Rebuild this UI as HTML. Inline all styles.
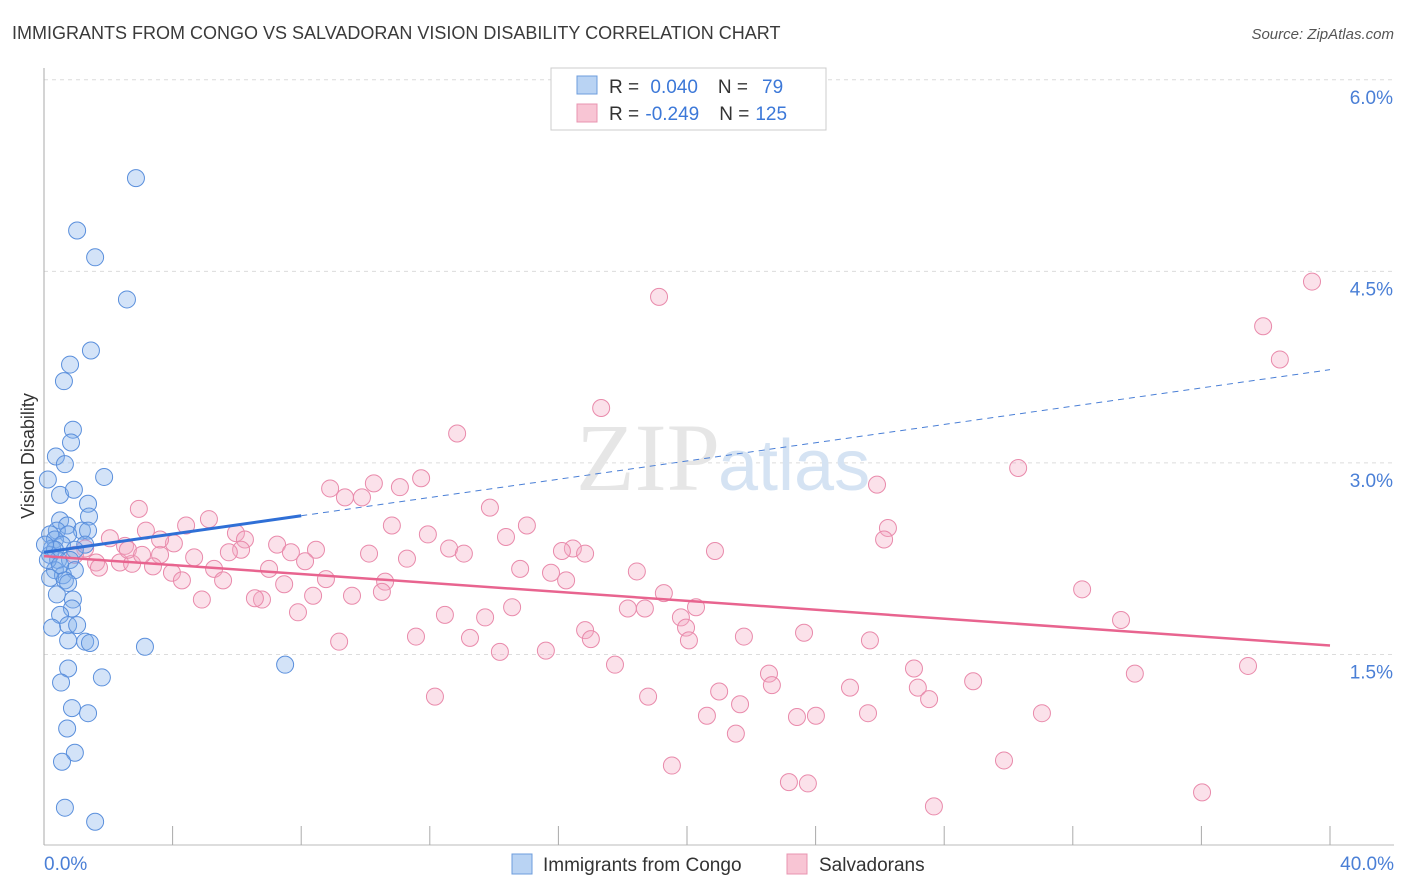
<!DOCTYPE html>
<html><head><meta charset="utf-8"><style>
body{margin:0;background:#fff;font-family:"Liberation Sans",sans-serif;}
#wrap{position:relative;width:1406px;height:892px;overflow:hidden;}
</style></head><body>
<div id="wrap">
<svg id="svg" width="1406" height="892" xmlns="http://www.w3.org/2000/svg">
<text x="12" y="39" font-size="18" fill="#3a3a3a" font-family="Liberation Sans,sans-serif">IMMIGRANTS FROM CONGO VS SALVADORAN VISION DISABILITY CORRELATION CHART</text>
<text x="1394" y="39" font-size="15" fill="#555" text-anchor="end" font-style="italic" font-family="Liberation Sans,sans-serif">Source: ZipAtlas.com</text>
<text x="34" y="456" font-size="18" fill="#333" text-anchor="middle" transform="rotate(-90 34 456)" font-family="Liberation Sans,sans-serif">Vision Disability</text>
<g id="grid"></g>
<text x="720" y="490" font-size="96" fill="#e6e6e6" text-anchor="end" font-family="Liberation Serif,serif">ZIP</text>
<text x="718" y="490" font-size="72" fill="#d5e3f3" font-family="Liberation Sans,sans-serif">atlas</text>
<g id="pts"></g>
<g id="lines"></g>
<g>
<rect x="551" y="68" width="275" height="62" fill="#fff" stroke="#ccc"/>
<rect x="577" y="76" width="20" height="18" fill="#b9d3f3" stroke="#6d9ddd"/>
<rect x="577" y="104" width="20" height="18" fill="#f8c5d4" stroke="#e894b0"/>
<text x="609" y="93" font-size="19" fill="#333">R = <tspan fill="#3c78d8" dx="6">0.040</tspan><tspan fill="#333" dx="20">N =</tspan><tspan fill="#3c78d8" dx="14">79</tspan></text>
<text x="609" y="120" font-size="19" fill="#333">R = <tspan fill="#3c78d8" dx="1">-0.249</tspan><tspan fill="#333" dx="20">N =</tspan><tspan fill="#3c78d8" dx="6">125</tspan></text>
</g>
<g>
<rect x="512" y="854" width="20" height="20" fill="#b9d3f3" stroke="#6d9ddd"/>
<text x="543" y="871" font-size="19" fill="#333">Immigrants from Congo</text>
<rect x="787" y="854" width="20" height="20" fill="#f8c5d4" stroke="#e894b0"/>
<text x="819" y="871" font-size="19" fill="#333">Salvadorans</text>
</g>
</svg>
</div>
<script>
const yTicks=[1.5,3.0,4.5,6.0];
const yTickLabels=["1.5%","3.0%","4.5%","6.0%"];
const xTicks=[0,4,8,12,16,20,24,28,32,36,40];
const xEndLabels=["0.0%","40.0%"];
const congoX=[2.86,1.03,1.59,2.58,1.46,0.81,0.62,0.90,0.84,0.37,0.65,0.12,1.87,0.50,0.93,1.37,1.40,0.50,0.72,0.40,1.18,0.75,1.37,0.19,0.34,0.25,0.56,1.28,0.96,0.19,0.44,0.81,0.34,0.59,0.96,0.19,0.65,0.75,0.40,0.90,0.87,0.50,0.25,0.75,1.03,0.75,1.28,1.43,3.14,0.75,7.50,0.53,1.80,0.87,1.37,0.72,0.96,0.56,0.65,1.59,0.34,0.12,0.50,0.03];
const congoY=[5.23,4.82,4.61,4.28,3.88,3.77,3.64,3.26,3.16,3.05,2.99,2.87,2.89,2.75,2.79,2.68,2.58,2.55,2.51,2.47,2.47,2.44,2.47,2.44,2.40,2.33,2.36,2.36,2.32,2.28,2.24,2.24,2.16,2.12,2.16,2.10,2.08,2.06,1.97,1.93,1.86,1.81,1.71,1.73,1.73,1.61,1.60,1.59,1.56,1.39,1.42,1.28,1.32,1.08,1.04,0.92,0.73,0.66,0.30,0.19,2.32,2.24,2.20,2.36];
const salvX=[39.44,19.13,37.92,38.44,17.33,12.85,30.30,25.91,8.90,10.26,11.73,11.07,9.36,9.89,2.95,5.13,13.87,26.25,4.42,15.02,10.82,3.17,5.97,11.94,2.05,26.13,6.25,4.04,14.37,2.52,7.25,8.46,12.60,16.45,16.11,20.87,6.13,5.75,16.83,10.11,7.68,13.06,3.61,4.67,8.12,11.29,1.62,2.36,2.74,1.71,7.00,5.29,3.98,3.39,14.81,15.77,18.44,5.57,8.77,10.61,16.24,4.29,7.47,32.29,19.28,9.58,10.51,6.78,6.56,8.37,4.91,14.56,18.16,20.28,18.69,7.90,12.47,13.72,33.50,19.81,16.83,19.97,23.64,21.77,11.57,13.25,9.18,17.01,20.06,25.69,14.18,15.61,17.76,27.06,37.45,22.55,33.93,22.64,28.90,25.07,21.00,27.18,12.16,18.79,27.53,21.65,20.62,23.42,24.01,25.63,31.04,21.52,29.86,19.53,23.17,23.76,36.02,27.68,2.61,3.05,3.61,1.28,0.96];
const salvY=[4.42,4.30,4.07,3.81,3.43,3.23,2.96,2.83,2.80,2.84,2.88,2.81,2.73,2.73,2.64,2.56,2.65,2.49,2.51,2.51,2.51,2.47,2.45,2.44,2.41,2.40,2.40,2.37,2.42,2.35,2.36,2.32,2.33,2.33,2.31,2.31,2.32,2.30,2.29,2.29,2.30,2.29,2.28,2.26,2.23,2.25,2.22,2.22,2.21,2.18,2.17,2.17,2.14,2.19,2.17,2.14,2.15,2.08,2.09,2.07,2.08,2.08,2.05,2.01,1.98,1.96,1.99,1.93,1.94,1.96,1.93,1.87,1.86,1.87,1.86,1.83,1.81,1.79,1.77,1.79,1.69,1.71,1.67,1.64,1.64,1.63,1.60,1.62,1.61,1.61,1.52,1.53,1.42,1.39,1.41,1.35,1.35,1.26,1.29,1.24,1.21,1.24,1.17,1.17,1.15,1.11,1.02,1.01,1.02,1.04,1.04,0.88,0.67,0.63,0.50,0.49,0.42,0.31,2.32,2.28,2.40,2.33,2.28];
const congoTrend=[2.30,3.73]; // y at x=0 and x=40
const congoSolidEnd=8;
const salvTrend=[2.27,1.57];

const NS="http://www.w3.org/2000/svg";
const X0=44,X1=1330,Y0=846,PXPERY=127.7;
function sx(v){return X0+(X1-X0)*v/40;}
function sy(v){return Y0-v*PXPERY;}
function mk(tag,attrs,parent){const e=document.createElementNS(NS,tag);for(const k in attrs)e.setAttribute(k,attrs[k]);parent.appendChild(e);return e;}
const grid=document.getElementById('grid');
yTicks.forEach((t,i)=>{
  const l=mk('line',{x1:X0,x2:1394,y1:sy(t),y2:sy(t),stroke:'#dcdcdc','stroke-dasharray':'4,4'},grid);
  
  
  const tx=mk('text',{x:1393,y:sy(t)+24,'font-size':19,fill:'#4a7fd6','text-anchor':'end'},grid);
  tx.textContent=yTickLabels[i];
  
  
});
const ax=mk('line',{x1:X0,x2:X0,y1:68,y2:845,stroke:'#aaa'},grid);


const bx=mk('line',{x1:X0,x2:1394,y1:845,y2:845,stroke:'#bbb'},grid);


xTicks.forEach(t=>{
  const l=mk('line',{x1:sx(t),x2:sx(t),y1:826,y2:845,stroke:'#aaa'},grid);
  
  
});
const xl0=mk('text',{x:44,y:870,'font-size':19,fill:'#4a7fd6'},grid);xl0.textContent=xEndLabels[0];


const xl1=mk('text',{x:1394,y:870,'font-size':19,fill:'#4a7fd6','text-anchor':'end'},grid);xl1.textContent=xEndLabels[1];


const pts=document.getElementById('pts');
salvX.forEach((v,i)=>{
  const c=mk('circle',{cx:sx(v),cy:sy(salvY[i]),r:8.5,fill:'rgba(244,170,195,0.35)',stroke:'#e98aab','stroke-width':1},pts);
  
  
});
congoX.forEach((v,i)=>{
  const c=mk('circle',{cx:sx(v),cy:sy(congoY[i]),r:8.5,fill:'rgba(130,175,235,0.35)',stroke:'#5a8fdc','stroke-width':1},pts);
  
  
});
const lines=document.getElementById('lines');
function ty(tr,x){return tr[0]+(tr[1]-tr[0])*x/40;}
const bd=mk('line',{x1:sx(congoSolidEnd),y1:sy(ty(congoTrend,congoSolidEnd)),x2:sx(40),y2:sy(congoTrend[1]),stroke:'#4a7fd6','stroke-width':1,'stroke-dasharray':'6,5'},lines);


const bs=mk('line',{x1:sx(0),y1:sy(congoTrend[0]),x2:sx(congoSolidEnd),y2:sy(ty(congoTrend,congoSolidEnd)),stroke:'#2f6fd6','stroke-width':3},lines);


const ps=mk('line',{x1:sx(0),y1:sy(salvTrend[0]),x2:sx(40),y2:sy(salvTrend[1]),stroke:'#e8648f','stroke-width':2.5},lines);


</script>
</body></html>
